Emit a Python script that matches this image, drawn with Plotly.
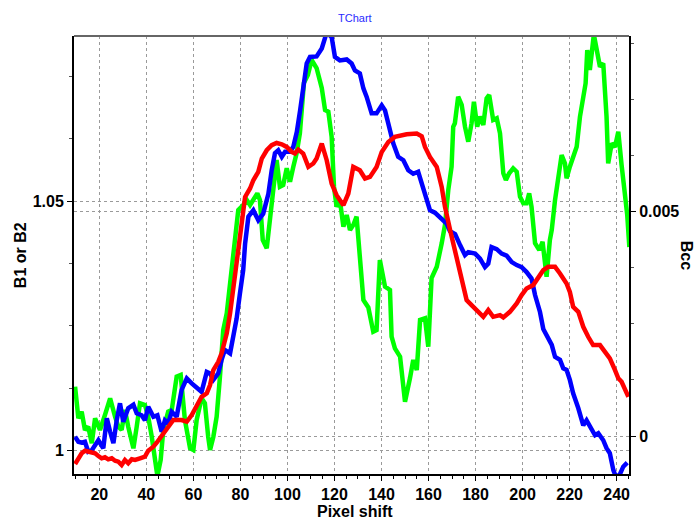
import plotly.graph_objects as go

# Pixel shift positions and the two B profiles (left axis)
b1_shift = [9.7, 11.1, 12.5, 13.9, 15.3, 16.8, 18.2, 19.6, 21.0, 22.4, 23.8, 25.3, 26.7, 28.1,
            29.5, 30.9, 32.3, 33.8, 35.2, 37.3, 39.4, 40.8, 43.0, 44.4, 45.8, 48.0, 48.7, 51.5,
            55.0, 57.2, 59.3, 61.4, 63.5, 65.7, 67.1, 68.5, 70.6, 72.0, 74.2, 75.6, 77.0, 78.4,
            79.8, 80.5, 82.0, 84.1, 85.5, 87.6, 89.1, 91.2, 93.3, 95.4, 97.6, 99.7, 101.8, 103.2,
            104.6, 106.7, 108.9, 111.0, 112.4, 114.6, 116.7, 118.8, 120.9, 123.8, 125.9, 128.0,
            130.8, 133.0, 135.1, 137.9, 140.1, 142.9, 145.7, 150.7, 155.0, 157.1, 158.5, 160.6,
            163.5, 165.6, 167.0, 169.2, 171.3, 174.1, 176.2, 178.3, 180.5, 183.3, 185.4, 187.5,
            190.4, 191.8, 194.6, 197.5, 199.6, 201.7, 204.5, 206.7, 208.8, 210.9, 213.8, 215.9,
            218.7, 220.1, 221.5, 223.7, 225.8, 227.9, 230.0, 232.9, 235.0, 237.1, 239.3, 240.7,
            242.1, 244.2, 245.0]
b1_value = [0.99734, 0.99848, 0.99948, 1.0000, 0.9998, 0.9996, 0.99948, 0.99894, 0.99848, 0.99868,
            0.99828, 0.99848, 0.9980, 0.9978, 0.99714, 0.99814, 0.99748, 0.99828, 0.99814, 0.99848,
            0.9988, 1.0000, 1.0008, 1.0016, 1.00248, 1.0038, 1.00449, 1.00615, 1.00615, 1.00581,
            1.00715, 1.00915, 1.01081, 1.01149, 1.01316, 1.01616, 1.01782, 1.0195, 1.02351, 1.02751,
            1.03284, 1.03885, 1.04419, 1.04686, 1.05086, 1.05254, 1.0542, 1.05587, 1.05855, 1.06021,
            1.06121, 1.06167, 1.06141, 1.06087, 1.05987, 1.05955, 1.06035, 1.05955, 1.05687, 1.05755,
            1.05855, 1.06155, 1.05821, 1.05354, 1.0512, 1.0492, 1.05154, 1.05687, 1.05621, 1.05455,
            1.05487, 1.05687, 1.05987, 1.06187, 1.06288, 1.06342, 1.06356, 1.06302, 1.06088, 1.05887,
            1.05687, 1.05287, 1.04886, 1.04419, 1.04019, 1.03418, 1.03018, 1.02918, 1.02818, 1.02683,
            1.02817, 1.02683, 1.02717, 1.02671, 1.02783, 1.02952, 1.03118, 1.03252, 1.03318, 1.03484,
            1.03618, 1.03684, 1.03684, 1.03552, 1.03352, 1.03184, 1.02883, 1.02783, 1.02483, 1.02283,
            1.02117, 1.02117, 1.01982, 1.0185, 1.01616, 1.0145, 1.01382, 1.01149, 1.01081]

b2_shift = [9.7, 11.1, 12.5, 13.9, 15.3, 16.8, 18.2, 19.6, 21.7, 23.2, 24.6, 26.0, 27.4, 28.8,
            30.2, 32.3, 34.5, 35.9, 38.0, 39.4, 40.8, 43.0, 44.7, 46.5, 47.9, 49.3, 50.8, 52.9,
            55.0, 57.2, 59.3, 61.4, 63.5, 65.7, 67.1, 68.5, 70.6, 72.0, 73.4, 75.6, 77.0, 78.4,
            79.8, 81.2, 82.0, 83.4, 85.5, 87.6, 89.7, 91.9, 93.3, 94.7, 96.1, 97.6, 99.0, 101.1,
            102.5, 104.0, 105.4, 106.8, 108.2, 109.6, 112.4, 114.6, 116.7, 118.8, 120.2, 122.3,
            125.2, 127.3, 128.7, 130.8, 132.3, 133.7, 135.8, 137.9, 140.1, 141.5, 143.6, 145.0,
            147.1, 149.3, 151.4, 153.5, 155.6, 157.1, 159.2, 160.6, 162.7, 164.9, 167.7, 169.1,
            171.3, 173.4, 175.5, 176.9, 179.8, 181.9, 184.0, 185.4, 186.8, 189.0, 191.1, 193.2,
            195.4, 197.5, 199.6, 201.7, 203.8, 205.3, 207.4, 208.8, 210.9, 212.4, 213.8, 215.9,
            217.3, 218.7, 220.1, 221.5, 223.7, 225.8, 227.2, 229.4, 230.8, 232.2, 234.3, 235.7,
            237.1, 238.6, 239.5, 240.7, 241.4, 242.8, 244.5]
b2_value = [1.0028, 1.0018, 1.0016, 1.0018, 0.9998, 1.0001, 1.0011, 1.0021, 1.0005, 1.0065,
            1.0038, 1.0015, 1.0061, 1.0095, 1.0058, 1.0085, 1.0092, 1.0075, 1.0071, 1.0061,
            1.0088, 1.0068, 1.0071, 1.0038, 1.0061, 1.0055, 1.0078, 1.0068, 1.0122, 1.0145,
            1.0135, 1.0125, 1.0118, 1.0158, 1.0155, 1.0142, 1.0155, 1.0182, 1.0202, 1.0195,
            1.0228, 1.0265, 1.0315, 1.0362, 1.0415, 1.0469, 1.0482, 1.0462, 1.0475, 1.0515,
            1.0562, 1.0596, 1.0602, 1.0589, 1.0599, 1.0599, 1.0609, 1.0639, 1.0682, 1.0729,
            1.0776, 1.0789, 1.0790, 1.0806, 1.0838, 1.0829, 1.0789, 1.0782, 1.0784, 1.0776,
            1.0762, 1.0756, 1.0726, 1.0709, 1.0676, 1.0676, 1.0692, 1.0682, 1.0642, 1.0616,
            1.0589, 1.0582, 1.0562, 1.0555, 1.0559, 1.0535, 1.0502, 1.0482, 1.0477, 1.0467,
            1.0455, 1.0440, 1.0434, 1.0412, 1.0392, 1.0398, 1.0395, 1.0385, 1.0368, 1.0375,
            1.0408, 1.0404, 1.0395, 1.0391, 1.0378, 1.0372, 1.0368, 1.0358, 1.0345, 1.0312,
            1.0278, 1.0244, 1.0225, 1.0212, 1.0188, 1.0182, 1.0165, 1.0162, 1.0142, 1.0115,
            1.0085, 1.0051, 1.0061, 1.0041, 1.0031, 1.0035, 1.0021, 1.0005, 0.9995, 0.9961,
            0.9950, 0.9950, 0.9953, 0.9968, 0.9976]

# Bcc profile (right axis)
bcc_shift = [9.7, 11.1, 12.5, 13.9, 15.3, 16.8, 18.2, 20.3, 22.4, 24.6, 26.7, 28.1, 29.5, 30.9,
             32.3, 34.5, 35.9, 37.3, 39.4, 40.8, 42.3, 43.7, 44.7, 46.1, 47.2, 49.3, 50.8, 52.9,
             54.6, 56.4, 58.6, 60.0, 61.4, 63.5, 64.9, 66.3, 67.1, 68.5, 69.9, 71.3, 72.7, 74.2,
             75.6, 77.7, 79.1, 81.2, 82.7, 84.1, 85.5, 87.2, 88.3, 89.5, 91.2, 92.6, 94.3, 95.4,
             96.8, 98.2, 99.7, 101.1, 102.5, 103.9, 105.3, 106.2, 107.0, 108.7, 110.3, 112.4,
             114.6, 116.0, 117.4, 118.8, 119.8, 120.9, 122.3, 123.8, 125.2, 126.6, 128.0, 129.4,
             130.8, 132.3, 134.4, 136.5, 137.9, 139.3, 141.5, 143.6, 144.3, 145.7, 147.9, 150.0,
             152.1, 153.5, 155.0, 156.4, 158.5, 159.9, 161.3, 163.5, 165.6, 167.0, 168.4, 169.8,
             170.5, 171.2, 172.6, 174.1, 175.5, 176.9, 178.3, 179.3, 180.7, 181.9, 183.3, 184.7,
             185.8, 187.5, 189.0, 190.4, 191.8, 192.9, 194.3, 196.0, 197.5, 198.9, 200.3, 201.7,
             202.8, 203.8, 205.3, 207.1, 208.5, 210.2, 211.6, 212.4, 213.8, 215.2, 216.6, 218.0,
             218.7, 220.1, 221.5, 223.0, 224.4, 225.8, 226.8, 227.5, 228.6, 230.3, 231.5, 232.9,
             234.3, 235.7, 236.4, 237.9, 239.3, 240.7, 242.1, 243.5, 244.5, 245.4]
bcc_value_e3 = [1.099, 0.395, 0.542, 0.134, 0.207, -0.163, 0.395, 0.134, 0.468, 0.840, 0.430,
                0.207, 0.134, 0.580, 0.207, -0.274, 0.207, 0.729, 0.691, 0.430, -0.016, -0.461,
                -0.890, -0.535, 0.134, 0.542, 0.580, 1.322, 1.360, 0.357, -0.274, -0.312, 0.357,
                0.840, 0.729, -0.016, -0.312, -0.016, 0.430, 1.322, 2.363, 2.735, 3.404, 4.443,
                5.038, 5.149, 5.261, 5.149, 5.261, 5.410, 5.261, 4.369, 4.184, 4.815, 5.557,
                6.153, 5.557, 5.595, 5.968, 5.669, 6.003, 6.302, 6.748, 7.490, 7.869, 8.047,
                8.382, 8.203, 7.758, 7.267, 7.229, 6.672, 5.557, 5.112, 5.261, 4.666, 4.927,
                4.592, 4.704, 4.889, 4.073, 3.032, 2.865, 2.325, 2.363, 3.923, 3.328, 3.255,
                2.214, 1.955, 1.768, 0.765, 1.286, 1.694, 1.471, 2.586, 2.624, 1.991, 3.522,
                3.774, 4.296, 4.704, 5.484, 6.003, 6.895, 6.971, 7.564, 7.379, 6.895, 6.561,
                6.971, 7.452, 6.895, 7.118, 6.933, 7.528, 7.602, 7.044, 7.082, 6.748, 5.856,
                5.707, 5.856, 5.968, 5.892, 5.335, 5.187, 5.187, 5.410, 5.112, 4.296, 4.146,
                4.331, 3.551, 4.369, 4.592, 5.261, 5.780, 6.264, 6.079, 5.745, 6.003, 6.226,
                6.449, 7.118, 7.564, 7.862, 8.605, 8.159, 8.950, 8.643, 8.232, 8.308, 7.118,
                6.079, 6.525, 6.442, 6.783, 6.041, 5.484, 4.927, 4.213]
bcc_value = [v * 1e-3 for v in bcc_value_e3]

x_ticks = list(range(20, 241, 20))

FONT = "Liberation Sans, Arial, sans-serif"
GRID = dict(showgrid=True, gridcolor="#9a9a9a", gridwidth=1, griddash="dot")

fig = go.Figure()

# Bcc drawn first so the B curves sit on top of it
fig.add_trace(go.Scatter(x=bcc_shift, y=bcc_value, mode="lines", name="Bcc",
                         line=dict(color="#00ff00", width=4.5), yaxis="y"))
fig.add_trace(go.Scatter(x=b2_shift, y=b2_value, mode="lines", name="B2",
                         line=dict(color="#0000ff", width=4.5), yaxis="y2"))
fig.add_trace(go.Scatter(x=b1_shift, y=b1_value, mode="lines", name="B1",
                         line=dict(color="#ff0000", width=4.5), yaxis="y2"))

tickfont = dict(family=FONT, size=16, color="black", weight="bold")
titlefont = dict(family=FONT, size=16, color="black", weight="bold")

fig.update_layout(
    width=698, height=521,
    margin=dict(l=74, r=69, t=36, b=47),
    paper_bgcolor="white", plot_bgcolor="white",
    showlegend=False,
    xaxis=dict(range=[9.24, 245.25], tickmode="array", tickvals=x_ticks,
               ticks="outside", ticklen=5, tickwidth=1, tickcolor="black",
               tickfont=tickfont, showline=True, linecolor="black", linewidth=2,
               zeroline=False,
               minor=dict(dtick=5, tick0=0, ticks="outside", ticklen=3,
                          tickcolor="black", showgrid=False),
               **GRID),
    yaxis=dict(side="right", range=[-0.000847, 0.008917], tick0=0, dtick=0.005,
               ticks="outside", ticklen=5, tickcolor="black", tickfont=tickfont,
               showline=True, linecolor="black", linewidth=2, zeroline=False,
               minor=dict(dtick=0.00125, tick0=0, ticks="outside", ticklen=3,
                          tickcolor="#555555", showgrid=False),
               **GRID),
    yaxis2=dict(side="left", overlaying="y", range=[0.995334, 1.0831], tick0=1, dtick=0.05,
                ticks="outside", ticklen=5, tickcolor="black", tickfont=tickfont,
                showline=True, linecolor="black", linewidth=2, zeroline=False,
                minor=dict(dtick=0.0125, tick0=1, ticks="outside", ticklen=3,
                           tickcolor="#555555", showgrid=False),
                **GRID),
    shapes=[dict(type="line", xref="paper", yref="paper", x0=0, x1=1, y0=1, y1=1,
                 line=dict(color="#666666", width=2))],
    annotations=[
        dict(text="TChart", xref="paper", yref="paper", x=0.506, y=1.041,
             xanchor="center", yanchor="middle", showarrow=False,
             font=dict(family=FONT, size=11, color="#2a2aff")),
        dict(text="B1 or B2", xref="paper", yref="paper", x=-0.097, y=0.5,
             xanchor="center", yanchor="middle", textangle=-90, showarrow=False,
             font=titlefont),
        dict(text="Bcc", xref="paper", yref="paper", x=1.105, y=0.5,
             xanchor="center", yanchor="middle", textangle=90, showarrow=False,
             font=titlefont),
        dict(text="Pixel shift", xref="paper", yref="paper", x=0.506, y=-0.0845,
             xanchor="center", yanchor="middle", showarrow=False,
             font=titlefont),
    ],
)

fig.write_html("out.html")
